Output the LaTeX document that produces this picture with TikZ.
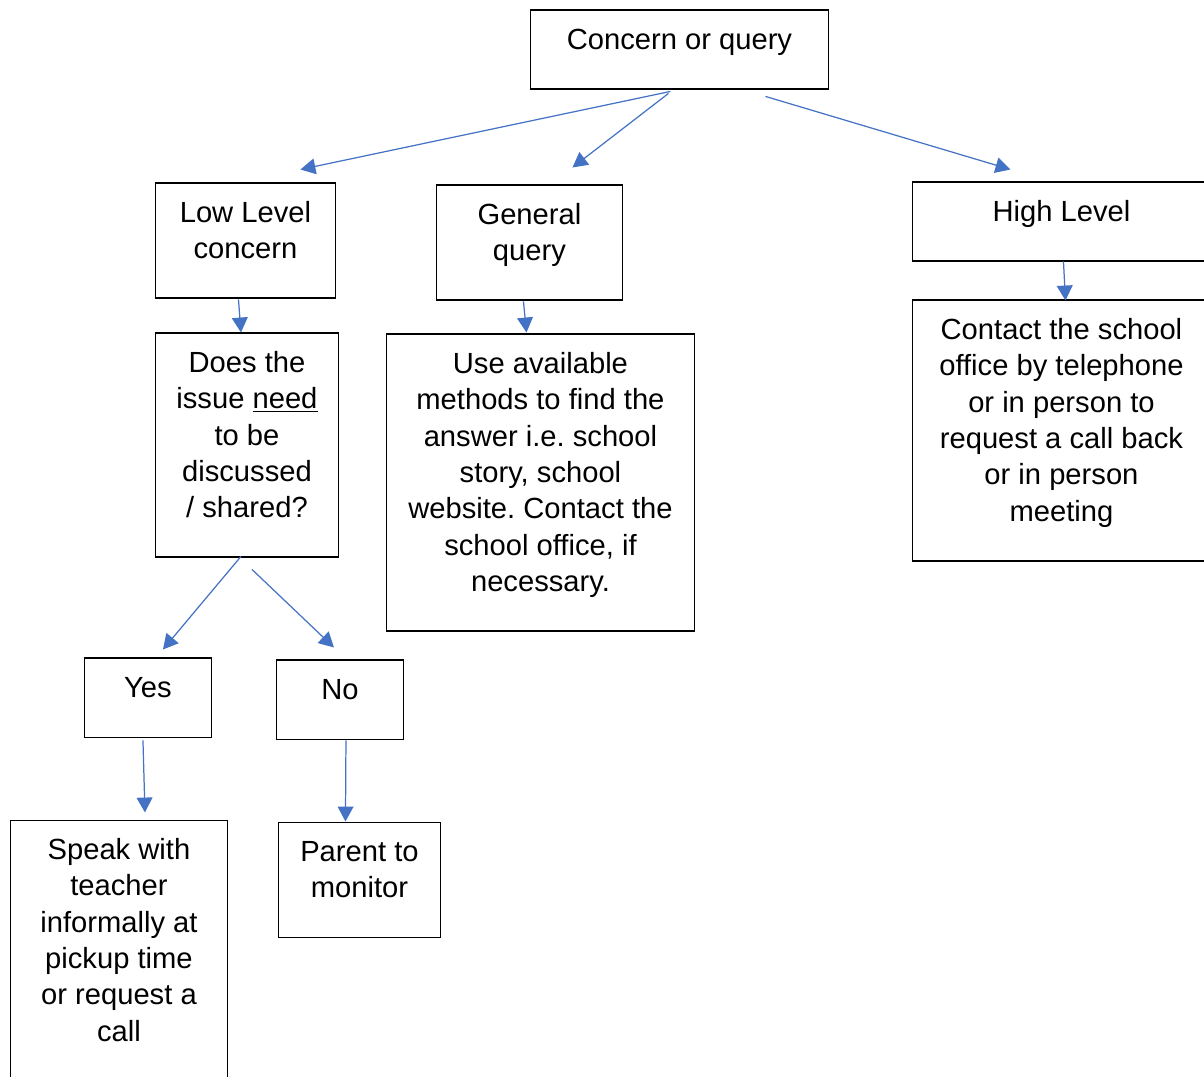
\documentclass[tikz,border=0pt]{standalone}
\usepackage{fontspec}
\setmainfont{Liberation Sans}
\usetikzlibrary{arrows.meta,calc}
\definecolor{arrowblue}{HTML}{4472C4}
\frenchspacing

\newlength{\pxu}
\setlength{\pxu}{0.02cm}
% box content: width, height (in px), text set from the top
\newcommand{\boxtext}[3]{\parbox[c][#2\pxu][t]{#1\pxu}{\centering\rule{0pt}{22.1pt}#3}}

\begin{document}
\begin{tikzpicture}[x=0.02cm,y=-0.02cm,
		flow box/.style={rectangle,draw,line width=1.1pt,inner sep=0pt,anchor=north west,
			font=\fontsize{16.6}{20.7}\selectfont},
		flow arrow/.style={-{Triangle[length=8.5pt,width=9pt]},arrowblue,line width=0.7pt}]

		\path[use as bounding box,clip] (0,0) rectangle (1204,1077);

		\node[flow box] (1) at (529.5,9.5) {\boxtext{298}{79}{Concern or query}};
		\node[flow box] (2) at (154.5,182.5) {\boxtext{180}{115}{Low Level\\concern}};
		\node[flow box] (3) at (435.5,184.5) {\boxtext{186}{115}{General\\query}};
		\node[flow box] (4) at (911.5,181.5) {\boxtext{298}{79}{High Level}};
		\node[flow box] (5) at (154.5,332.5) {\boxtext{183}{224}{Does the\\issue \underline{need}\\to be\\discussed\\/ shared?}};
		\node[flow box] (6) at (385.5,333.5) {\boxtext{308}{297}{Use available\\methods to find the\\answer i.e. school\\story, school\\website. Contact the\\school office, if\\necessary.}};
		\node[flow box] (7) at (911.5,299.5) {\boxtext{298}{261}{Contact the school\\office by telephone\\or in person to\\request a call back\\or in person\\meeting}};
		\node[flow box] (8) at (83.5,657.5) {\boxtext{127}{79}{Yes}};
		\node[flow box] (9) at (275.5,659.5) {\boxtext{127}{79}{No}};
		\node[flow box] (10) at (9.5,819.5) {\boxtext{217}{262}{Speak with\\teacher\\informally at\\pickup time\\or request a\\call}};
		\node[flow box] (11) at (277.5,821.5) {\boxtext{162}{115}{Parent to\\monitor}};

		\path[flow arrow]
		($(1.south)+(-9,1)$) edge ($(2.north)+(55,-13)$)
		($(1.south)+(-11,3)$) edge ($(3.north)+(43,-17)$)
		($(1.south)+(86,6)$) edge ($(4.north)+(-51,-12)$)
		($(2.south)+(-7,0)$) edge ($(5.north)+(-6,0)$)
		($(3.south)+(-6,0)$) edge ($(6.north)+(-14,-1)$)
		($(4.south)+(2,-1)$) edge ($(7.north)+(4,1)$)
		($(5.south)+(-6,-2)$) edge ($(8.north)+(15,-8)$)
		($(5.south)+(5,11)$) edge ($(9.north)+(-6,-12)$)
		($(8.south)+(-5,2)$) edge ($(10.north)+(26,-7)$)
		($(9.south)+(6,0)$) edge ($(11.north)+(-14,0)$);
\end{tikzpicture}
\end{document}
